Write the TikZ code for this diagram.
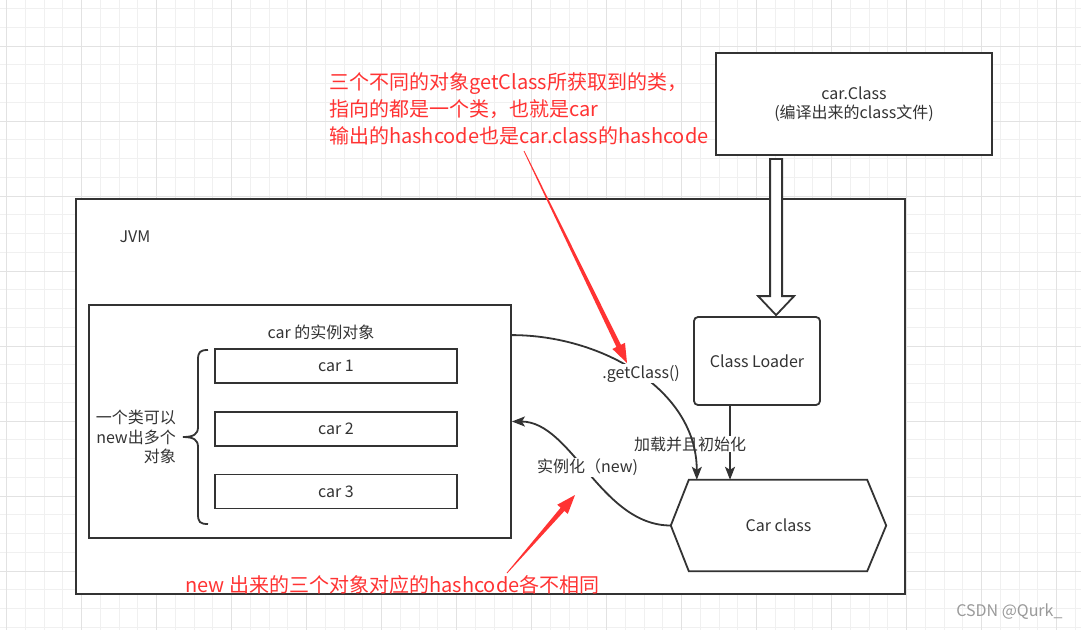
\documentclass[tikz,border=0pt]{standalone}
\usepackage{fontspec}
\setmainfont{Noto Sans CJK SC}
\usetikzlibrary{arrows.meta,calc}
\definecolor{ln}{HTML}{333333}
\definecolor{rd}{HTML}{FF3333}
\definecolor{gminor}{HTML}{F0F0F0}
\definecolor{gmajor}{HTML}{E2E2E2}
\definecolor{wm}{HTML}{9A9A9A}
\begin{document}
\begin{tikzpicture}[x=1pt,y=-1pt,
  box/.style={draw=ln,line width=1.8pt,fill=white,inner sep=0pt},
  lbl/.style={text=ln,font=\fontsize{16}{19.5}\selectfont},
  rtxt/.style={text=rd,font=\fontsize{20}{27}\selectfont,inner sep=0pt},
  conn/.style={draw=ln,line width=1.8pt,-{Stealth[length=13pt,width=10pt,inset=3pt]}},
  redarrow/.style={fill=rd,draw=none},
  elbl/.style={lbl,fill=white,inner sep=1pt}]
% background and grid
\fill[white] (0,0) rectangle (1081,630);
\useasboundingbox (0,0) rectangle (1081,630);
\foreach \i in {0,...,57} {\draw[gminor,line width=1pt] ({6.7+18.75*\i},0) -- ({6.7+18.75*\i},630);}
\foreach \j in {0,...,33} {\draw[gminor,line width=1pt] (0,{8.5+18.75*\j}) -- (1081,{8.5+18.75*\j});}
\foreach \i in {0,...,14} {\draw[gmajor,line width=1pt] ({6.7+75*\i},0) -- ({6.7+75*\i},630);}
\foreach \j in {0,...,7} {\draw[gmajor,line width=1pt] (0,{46+75*\j}) -- (1081,{46+75*\j});}

% boxes
\node[box,lbl,align=center,minimum width=276,minimum height=102] (cf) at (854,104) {car.Class\\(编译出来的class文件)};
\node[box,minimum width=829,minimum height=395] (jvm) at (490.5,396.5) {};
\node[lbl,anchor=west] (jvml) at (116,237) {JVM};
\node[box,minimum width=422,minimum height=233] (inst) at (300,421.5) {};
\node[lbl] (instt) at (321,332) {car 的实例对象};
\node[box,lbl,minimum width=242,minimum height=34] (c1) at (336,366) {car 1};
\node[box,lbl,minimum width=242,minimum height=34] (c2) at (336,429) {car 2};
\node[box,lbl,minimum width=242,minimum height=34] (c3) at (336,491.5) {car 3};
\node[lbl,align=right,anchor=east,inner sep=0pt] (multi) at (176,437) {一个类可以\\new出多个\\对象};
\draw[ln,line width=1.8pt] (208,350) .. controls (200,350) and (198,352) .. (198,360) -- (198,427)
  .. controls (198,434) and (194,437) .. (183,437) .. controls (194,437) and (198,440) .. (198,447)
  -- (198,514) .. controls (198,522) and (200,524) .. (208,524);
\node[box,lbl,rounded corners=4pt,minimum width=126,minimum height=88] (cl) at (757,361) {Class Loader};
\node[lbl,minimum width=215,minimum height=91,inner sep=0pt] (cc) at (778.5,525.5) {Car class};
\draw[ln,line width=1.8pt] ($(cc.north west)+(18,0)$) -- ($(cc.north east)+(-19,0)$) -- (cc.east)
  -- ($(cc.south east)+(-19,0)$) -- ($(cc.south west)+(18,0)$) -- (cc.west) -- cycle;

% block arrow car.Class -> Class Loader
\coordinate (bt) at ($(cf.south west)+(61,3)$);
\coordinate (bb) at ($(cl.north)+(20,-1)$);
\draw[ln,line width=1.8pt,fill=white,line join=miter] ($(bt)+(-6,0)$) -- ($(bt|-bb)+(-6,-19)$) -- ($(bt|-bb)+(-18,-19)$)
  -- (bt|-bb) -- ($(bt|-bb)+(18,-19)$) -- ($(bt|-bb)+(6,-19)$) -- ($(bt)+(6,0)$) -- cycle;

% load arrow
\coordinate (la) at ($(cl.south)+(-27,0)$);
\draw[conn] (la) -- (la|-cc.north);
\node[elbl] (loadl) at (690,444) {加载并且初始化};

% getClass
\coordinate (gs) at ($(inst.north east)+(0,31)$);
\coordinate (ge) at ($(cc.north west)+(26,0)$);
\draw[conn] (gs) .. controls +(90,0) and +(0,-90) .. (ge) node[elbl,pos=0.5,xshift=3pt] (gl) {.getClass()};

% new
\draw[conn] (cc.west) .. controls +(-70,0) and +(60,0) .. (inst.east) node[elbl,pos=0.5,yshift=6pt] (nl) {实例化（new)};

% red texts
\node[rtxt,anchor=west,align=left] (rt) at (329,109) {三个不同的对象getClass所获取到的类，\\指向的都是一个类，也就是car\\输出的hashcode也是car.class的hashcode};
\node[rtxt] (rb) at (392.5,585) {new 出来的三个对象对应的hashcode各不相同};

% red arrows
\coordinate (t1) at (524,151);
\coordinate (p1) at (627,363);
\coordinate (b1) at ($(p1)!19pt!(t1)$);
\fill[redarrow] ($(t1)!0.4pt!90:(p1)$) -- ($(b1)!2.5pt!-90:(t1)$) -- ($(b1)!7pt!-90:(t1)$) -- (p1)
  -- ($(b1)!7pt!90:(t1)$) -- ($(b1)!2.5pt!90:(t1)$) -- ($(t1)!0.4pt!-90:(p1)$) -- cycle;
\coordinate (t2) at (507,573);
\coordinate (p2) at (575,495);
\coordinate (b2) at ($(p2)!19pt!(t2)$);
\fill[redarrow] ($(t2)!0.4pt!90:(p2)$) -- ($(b2)!2.5pt!-90:(t2)$) -- ($(b2)!7pt!-90:(t2)$) -- (p2)
  -- ($(b2)!7pt!90:(t2)$) -- ($(b2)!2.5pt!90:(t2)$) -- ($(t2)!0.4pt!-90:(p2)$) -- cycle;

% watermark
\node[text=wm,font=\fontsize{16}{19}\selectfont,anchor=east] (wmk) at (1066,612) {CSDN @Qurk\_};
\end{tikzpicture}
\end{document}
